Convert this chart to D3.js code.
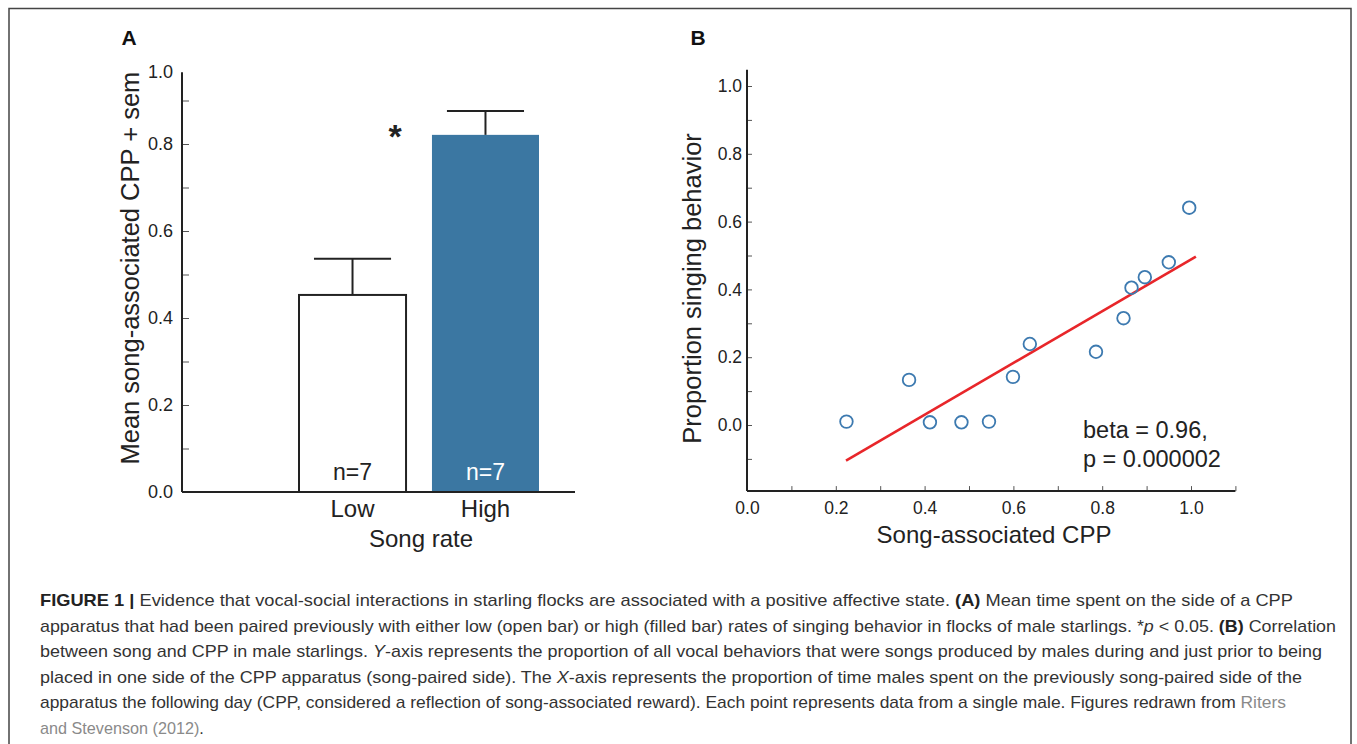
<!DOCTYPE html>
<html>
<head>
<meta charset="utf-8">
<script src="https://cdn.jsdelivr.net/npm/d3@7.9.0/dist/d3.min.js"></script>
<style>
  body { margin: 0; background: #fff; }
  svg { display: block; }
  text { font-family: "Liberation Sans", Arial, Helvetica, sans-serif; }
</style>
</head>
<body>
<svg width="1357" height="744"></svg>
<script>
// Panel A: song rate groups
const groups = ['Low', 'High'];
const groupMeans = [0.453, 0.821];
const groupSem = [0.083, 0.055];
const groupN = ['n=7', 'n=7'];
const yTicksA = [0, 0.2, 0.4, 0.6, 0.8];
const yMinorA = [0.1, 0.3, 0.5, 0.7, 0.9];

// Panel B: one point per male
const cpp =     [0.224, 0.365, 0.412, 0.483, 0.545, 0.599, 0.637, 0.786, 0.848, 0.866, 0.896, 0.950, 0.996];
const singing = [0.010, 0.133, 0.008, 0.008, 0.010, 0.142, 0.239, 0.216, 0.315, 0.405, 0.436, 0.480, 0.641];
const fitLine = [[0.223, -0.105], [1.011, 0.497]];
const xTicksB = [0, 0.2, 0.4, 0.6, 0.8, 1.0];
const xMinorB = [0.1, 0.3, 0.5, 0.7, 0.9, 1.1];
const yTicksB = [0, 0.2, 0.4, 0.6, 0.8, 1.0];
const yMinorB = [-0.1, 0.1, 0.3, 0.5, 0.7, 0.9];

// caption, one array per printed line: [text, style]
const caption = [
  [['FIGURE 1 |', 'b'], [' Evidence that vocal-social interactions in starling flocks are associated with a positive affective state. '], ['(A)', 'b'], [' Mean time spent on the side of a CPP']],
  [['apparatus that had been paired previously with either low (open bar) or high (filled bar) rates of singing behavior in flocks of male starlings. *'], ['p', 'i'], [' < 0.05. '], ['(B)', 'b'], [' Correlation']],
  [['between song and CPP in male starlings. '], ['Y', 'i'], ['-axis represents the proportion of all vocal behaviors that were songs produced by males during and just prior to being']],
  [['placed in one side of the CPP apparatus (song-paired side). The '], ['X', 'i'], ['-axis represents the proportion of time males spent on the previously song-paired side of the']],
  [['apparatus the following day (CPP, considered a reflection of song-associated reward). Each point represents data from a single male. Figures redrawn from '], ['Riters', 'link']],
  [['and Stevenson (2012)', 'link'], ['.']]
];
// right end of each full caption line (the last line keeps its natural width)
const captionEnds = [1293, 1336, 1322, 1302, 1286, null];

const ink = '#222';
const blue = '#3b77a2';
const svg = d3.select('svg');

// frame
svg.append('rect')
  .attr('x', 9).attr('y', 8.5).attr('width', 1342).attr('height', 760)
  .attr('fill', 'none').attr('stroke', '#444').attr('stroke-width', 1.5);

function styleAxis(g, size) {
  g.attr('font-family', null).attr('font-size', null);
  g.selectAll('text').attr('fill', ink).style('font-size', size + 'px');
  g.selectAll('.tick line').attr('stroke', '#555');
  g.select('.domain').remove();
}

// ---------- Panel A ----------
const yA = d3.scaleLinear().domain([0, 1]).range([492, 57]);
const xA = d3.scaleBand().domain(groups).range([299, 539]).paddingInner(0.195);
const topA = 0.965;
const axA = 182;

svg.append('g').attr('transform', `translate(${axA},0)`)
  .call(d3.axisLeft(yA).tickValues(yMinorA).tickSize(-7).tickFormat(''))
  .call(g => styleAxis(g, 18));
svg.append('g').attr('transform', `translate(${axA},0)`)
  .call(d3.axisLeft(yA).tickValues(yTicksA).tickSize(-7).tickPadding(9).tickFormat(d3.format('.1f')))
  .call(g => styleAxis(g, 18));
svg.append('text')
  .attr('x', axA - 9).attr('y', yA(topA)).attr('dy', '0.32em')
  .attr('text-anchor', 'end').attr('fill', ink).style('font-size', '18px')
  .text('1.0');

svg.append('line')
  .attr('x1', axA).attr('x2', axA).attr('y1', yA(topA)).attr('y2', yA(0))
  .attr('stroke', ink).attr('stroke-width', 2);

svg.selectAll('rect.bar')
  .data(groups)
  .join('rect')
  .attr('class', 'bar')
  .attr('x', d => xA(d))
  .attr('y', (d, i) => yA(groupMeans[i]))
  .attr('width', xA.bandwidth())
  .attr('height', (d, i) => yA(0) - yA(groupMeans[i]))
  .attr('fill', (d, i) => i === 0 ? '#fff' : blue)
  .attr('stroke', (d, i) => i === 0 ? ink : 'none')
  .attr('stroke-width', 2);

// error bars (+ sem only)
const capW = xA.bandwidth() * 0.72;
groups.forEach((g, i) => {
  const cx = xA(g) + xA.bandwidth() / 2;
  svg.append('line')
    .attr('x1', cx).attr('x2', cx)
    .attr('y1', yA(groupMeans[i])).attr('y2', yA(groupMeans[i] + groupSem[i]))
    .attr('stroke', ink).attr('stroke-width', 2);
  svg.append('line')
    .attr('x1', cx - capW / 2).attr('x2', cx + capW / 2)
    .attr('y1', yA(groupMeans[i] + groupSem[i])).attr('y2', yA(groupMeans[i] + groupSem[i]))
    .attr('stroke', ink).attr('stroke-width', 2);
  svg.append('text')
    .attr('x', cx).attr('y', yA(0) - 12)
    .attr('text-anchor', 'middle')
    .attr('fill', i === 0 ? ink : '#fff')
    .style('font-size', '23px')
    .text(groupN[i]);
});

svg.append('line')
  .attr('x1', axA).attr('x2', 575).attr('y1', yA(0)).attr('y2', yA(0))
  .attr('stroke', ink).attr('stroke-width', 2);

svg.append('g').attr('transform', `translate(0,${yA(0)})`)
  .call(d3.axisBottom(xA).tickSize(0).tickPadding(8))
  .call(g => styleAxis(g, 24));

svg.append('text')
  .attr('x', 395).attr('y', 148)
  .attr('text-anchor', 'middle').attr('fill', ink)
  .style('font-size', '34px').style('font-weight', 'bold')
  .text('*');

svg.append('text')
  .attr('x', 421).attr('y', 547)
  .attr('text-anchor', 'middle').attr('fill', ink).style('font-size', '24px')
  .text('Song rate');

svg.append('text')
  .attr('transform', `translate(139,${(yA(0) + yA(topA)) / 2 - 14}) rotate(-90)`)
  .attr('text-anchor', 'middle').attr('fill', ink).style('font-size', '25.5px')
  .text('Mean song-associated CPP + sem');

svg.append('text')
  .attr('x', 129).attr('y', 45)
  .attr('text-anchor', 'middle').attr('fill', '#111')
  .style('font-size', '21px').style('font-weight', 'bold')
  .text('A');

// ---------- Panel B ----------
const xB = d3.scaleLinear().domain([0, 1]).range([747, 1191]);
const yB = d3.scaleLinear().domain([0, 1]).range([425, 86]);
const yLoB = -0.195, yHiB = 1.048, xHiB = 1.1;

svg.append('g').attr('transform', `translate(${xB(0)},0)`)
  .call(d3.axisLeft(yB).tickValues(yMinorB).tickSize(-5).tickFormat(''))
  .call(g => styleAxis(g, 17.5));
svg.append('g').attr('transform', `translate(${xB(0)},0)`)
  .call(d3.axisLeft(yB).tickValues(yTicksB).tickSize(-5).tickPadding(5).tickFormat(d3.format('.1f')))
  .call(g => styleAxis(g, 17.5));

svg.append('g').attr('transform', `translate(0,${yB(yLoB)})`)
  .call(d3.axisBottom(xB).tickValues(xMinorB).tickSize(-5).tickFormat(''))
  .call(g => styleAxis(g, 17.5));
svg.append('g').attr('transform', `translate(0,${yB(yLoB)})`)
  .call(d3.axisBottom(xB).tickValues(xTicksB).tickSize(-5).tickPadding(10).tickFormat(d3.format('.1f')))
  .call(g => styleAxis(g, 17.5));

svg.append('line')
  .attr('x1', xB(0)).attr('x2', xB(0)).attr('y1', yB(yHiB)).attr('y2', yB(yLoB))
  .attr('stroke', ink).attr('stroke-width', 2);
svg.append('line')
  .attr('x1', xB(0)).attr('x2', xB(xHiB)).attr('y1', yB(yLoB)).attr('y2', yB(yLoB))
  .attr('stroke', ink).attr('stroke-width', 2);

svg.append('path')
  .attr('d', d3.line().x(d => xB(d[0])).y(d => yB(d[1]))(fitLine))
  .attr('stroke', '#e8262a').attr('stroke-width', 2.6).attr('fill', 'none');

svg.selectAll('circle.pt')
  .data(cpp)
  .join('circle')
  .attr('class', 'pt')
  .attr('cx', d => xB(d))
  .attr('cy', (d, i) => yB(singing[i]))
  .attr('r', 6.3)
  .attr('fill', 'none')
  .attr('stroke', '#3d7ab0')
  .attr('stroke-width', 1.8);

svg.append('text')
  .attr('x', 1083).attr('y', 438).attr('fill', ink).style('font-size', '23.5px')
  .text('beta = 0.96,');
svg.append('text')
  .attr('x', 1083).attr('y', 467).attr('fill', ink).style('font-size', '23.5px')
  .text('p = 0.000002');

svg.append('text')
  .attr('x', 994).attr('y', 543)
  .attr('text-anchor', 'middle').attr('fill', ink).style('font-size', '24px')
  .text('Song-associated CPP');

svg.append('text')
  .attr('transform', `translate(701,${(yB(yLoB) + yB(yHiB)) / 2 + 8}) rotate(-90)`)
  .attr('text-anchor', 'middle').attr('fill', ink).style('font-size', '25.5px')
  .text('Proportion singing behavior');

svg.append('text')
  .attr('x', 698).attr('y', 45)
  .attr('text-anchor', 'middle').attr('fill', '#111')
  .style('font-size', '21px').style('font-weight', 'bold')
  .text('B');

// ---------- Caption ----------
const capX = 40;
caption.forEach((parts, li) => {
  const t = svg.append('text')
    .attr('x', capX).attr('y', 606 + li * 25.5)
    .attr('fill', '#333').style('font-size', li === 5 ? '16.2px' : '17px');
  if (captionEnds[li]) {
    t.attr('textLength', captionEnds[li] - capX).attr('lengthAdjust', 'spacingAndGlyphs');
  }
  parts.forEach(([str, kind]) => {
    const s = t.append('tspan').text(str);
    if (kind === 'b') s.style('font-weight', 'bold').attr('fill', '#222');
    if (kind === 'i') s.style('font-style', 'italic');
    if (kind === 'link') s.attr('fill', '#8a8a8a');
  });
});
</script>
</body>
</html>
